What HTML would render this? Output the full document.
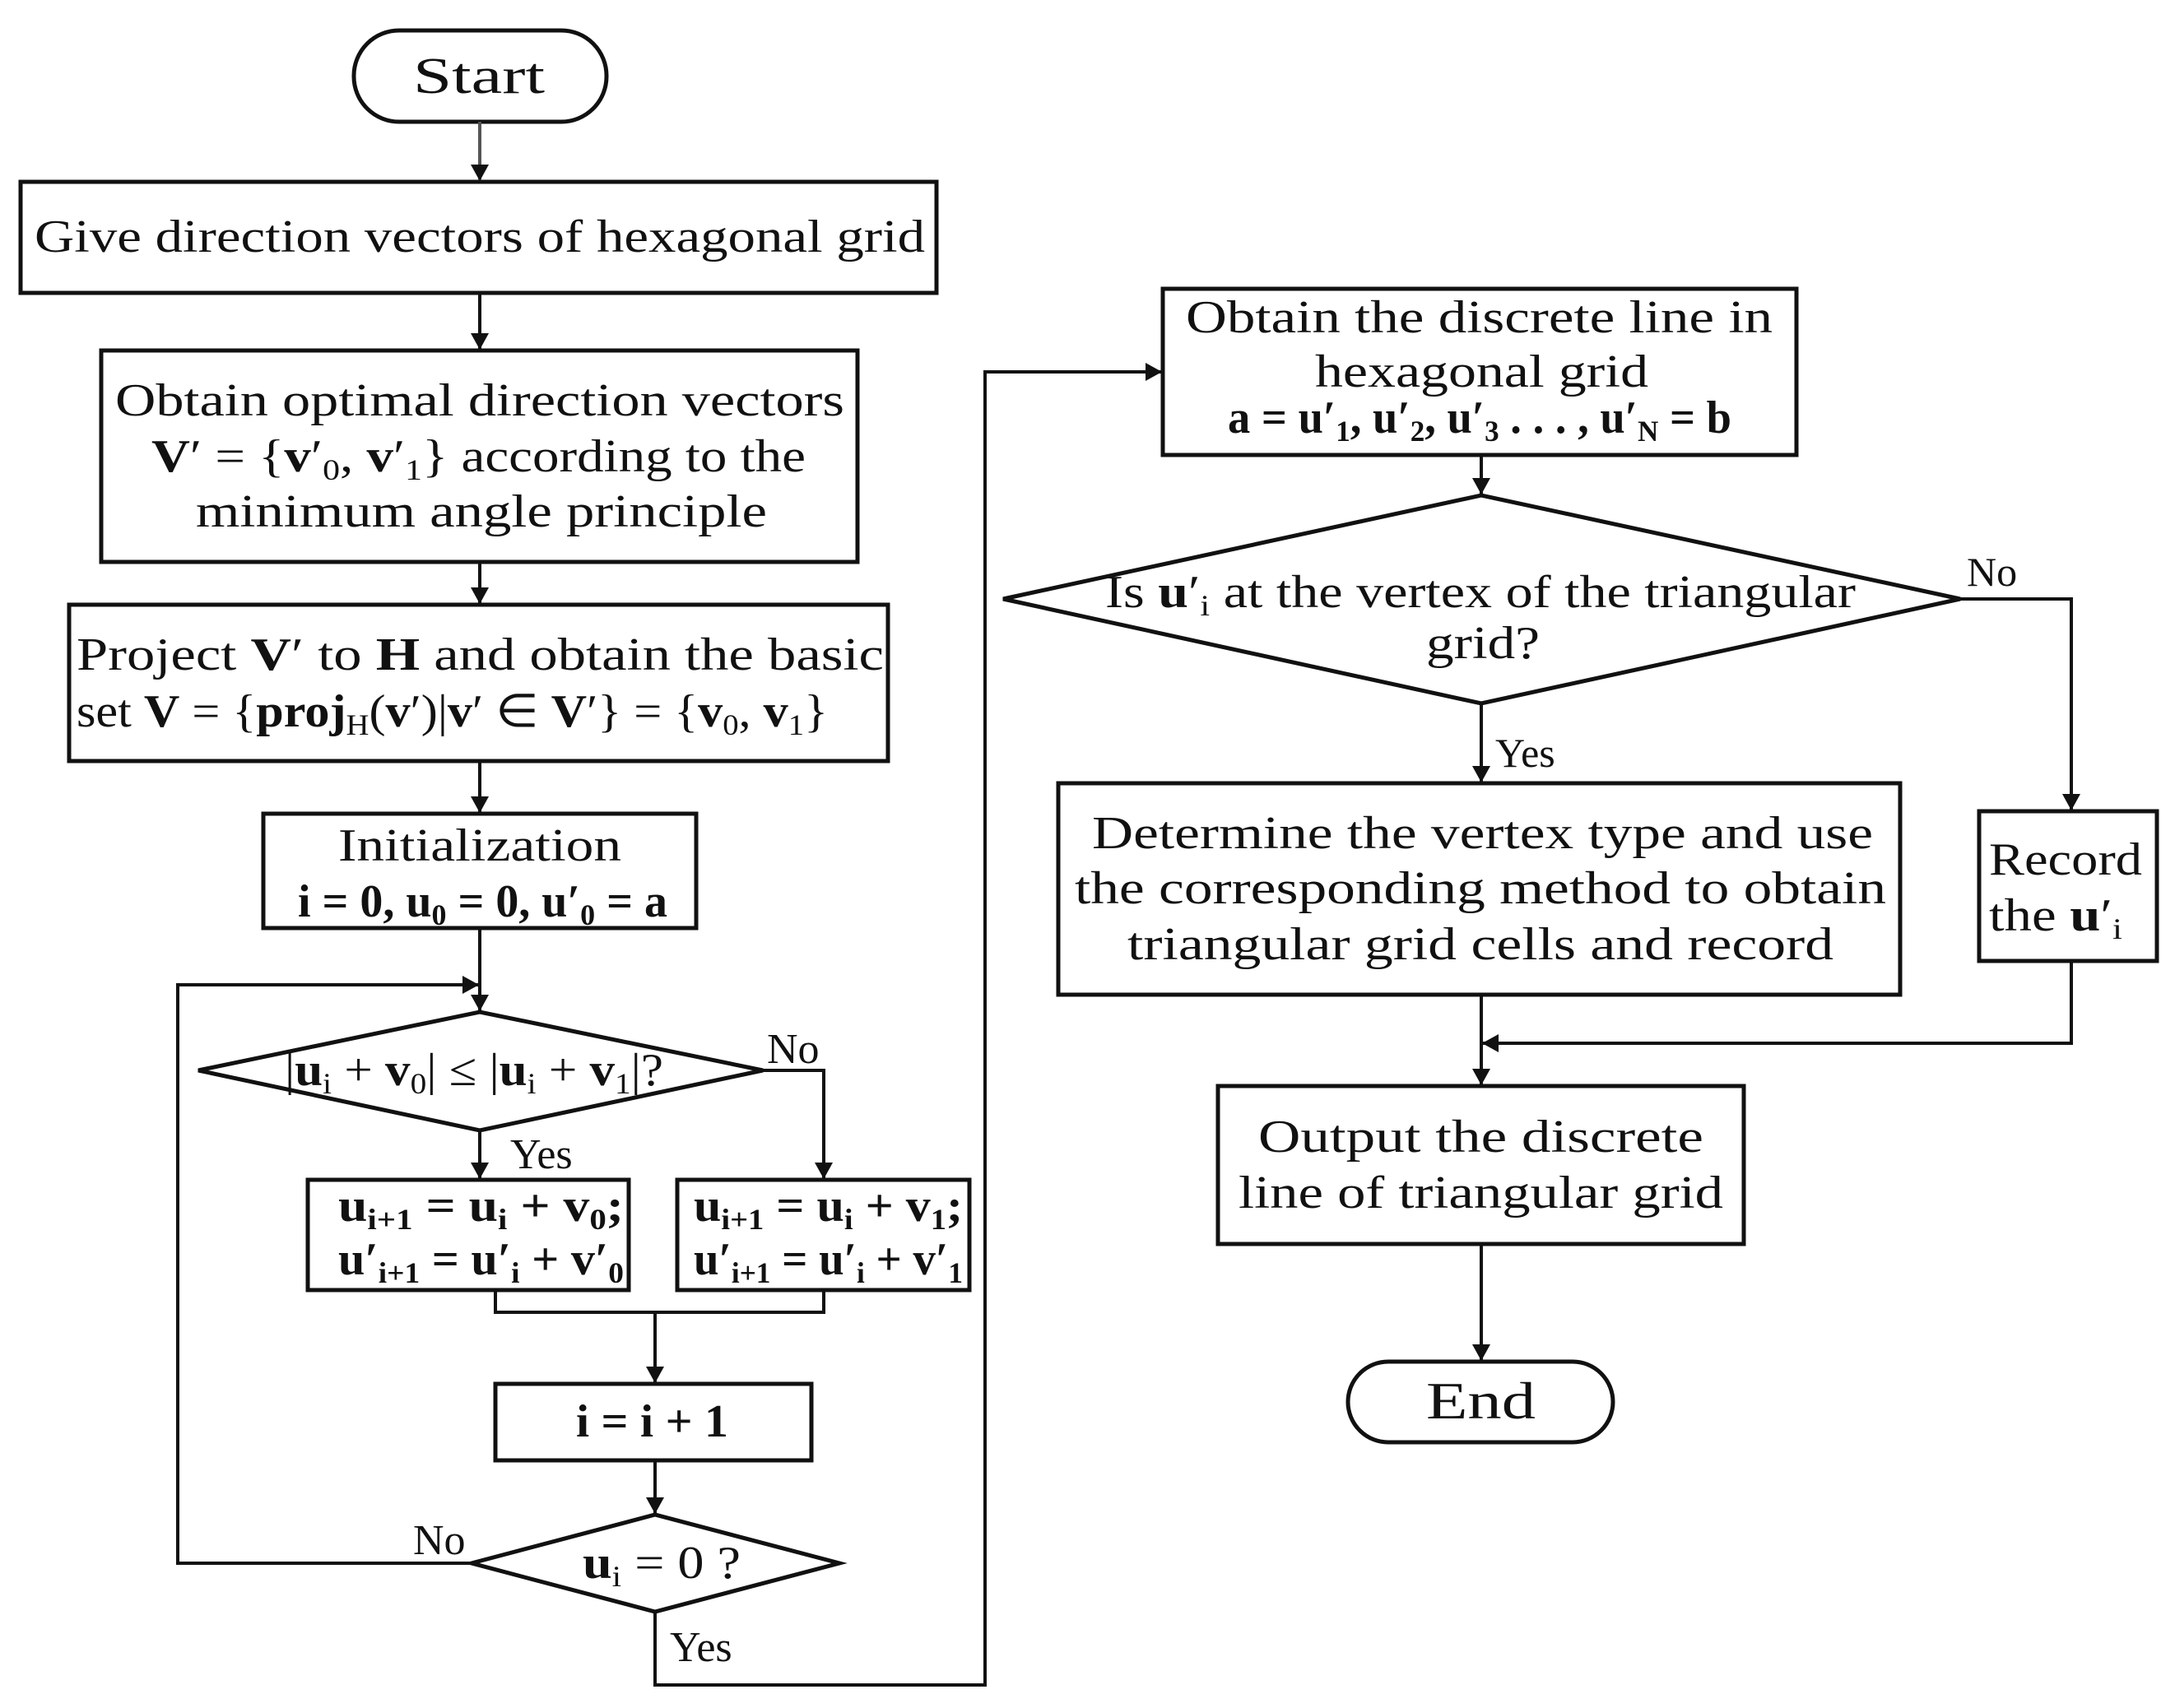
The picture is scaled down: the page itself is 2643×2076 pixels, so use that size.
<!DOCTYPE html>
<html><head><meta charset="utf-8"><style>
html,body{margin:0;padding:0;background:#fff}
svg{display:block}
text{font-family:"Liberation Serif",serif;fill:#111}
</style></head><body>
<svg width="2643" height="2076" viewBox="0 0 2643 2076" xmlns="http://www.w3.org/2000/svg">
<defs>
<marker id="a" markerWidth="8" markerHeight="8" refX="7" refY="4" orient="auto" markerUnits="userSpaceOnUse" viewBox="0 0 8 8">
<path d="M0,0 L8,4 L0,8 z" fill="#111"/></marker>
<marker id="b" markerWidth="20" markerHeight="22" refX="19" refY="11" orient="auto" markerUnits="userSpaceOnUse" viewBox="0 0 20 22">
<path d="M0,0 L20,11 L0,22 z" fill="#111"/></marker>
</defs>
<g fill="none" stroke="#111" stroke-width="5">
<rect x="430" y="37" width="307" height="111" rx="55"/>
<rect x="25" y="221" width="1113" height="135"/>
<rect x="123" y="426" width="919" height="257"/>
<rect x="84" y="735" width="995" height="190"/>
<rect x="320" y="989" width="526" height="139"/>
<polygon points="241,1301 583,1230 927,1301 583,1374"/>
<rect x="374" y="1434" width="390" height="134"/>
<rect x="823" y="1434" width="355" height="134"/>
<rect x="602" y="1682" width="384" height="93"/>
<polygon points="573,1900 796,1841 1020,1900 796,1959"/>
<rect x="1413" y="351" width="770" height="202"/>
<polygon points="1219,728 1800,602 2382,728 1800,855"/>
<rect x="1286" y="952" width="1023" height="257"/>
<rect x="2405" y="986" width="216" height="182"/>
<rect x="1480" y="1320" width="639" height="192"/>
<rect x="1638" y="1655" width="322" height="98" rx="49"/>
</g>
<g fill="none" stroke="#111" stroke-width="4">
<line x1="583" y1="148" x2="583" y2="219" stroke="#555" marker-end="url(#b)"/>
<line x1="583" y1="356" x2="583" y2="424" marker-end="url(#b)"/>
<line x1="583" y1="683" x2="583" y2="733" marker-end="url(#b)"/>
<line x1="583" y1="925" x2="583" y2="987" marker-end="url(#b)"/>
<line x1="583" y1="1128" x2="583" y2="1228" marker-end="url(#b)"/>
<polyline points="573,1900 216,1900 216,1197 581,1197" marker-end="url(#b)"/>
<line x1="583" y1="1374" x2="583" y2="1432" marker-end="url(#b)"/>
<polyline points="927,1301 1001,1301 1001,1432" marker-end="url(#b)"/>
<polyline points="602,1568 602,1595 1001,1595 1001,1568"/>
<line x1="796" y1="1595" x2="796" y2="1680" marker-end="url(#b)"/>
<line x1="796" y1="1775" x2="796" y2="1839" marker-end="url(#b)"/>
<polyline points="796,1959 796,2048 1197,2048 1197,452 1411,452" marker-end="url(#b)"/>
<line x1="1800" y1="553" x2="1800" y2="600" marker-end="url(#b)"/>
<line x1="1800" y1="855" x2="1800" y2="950" marker-end="url(#b)"/>
<polyline points="2382,728 2517,728 2517,984" marker-end="url(#b)"/>
<line x1="1800" y1="1209" x2="1800" y2="1318" marker-end="url(#b)"/>
<polyline points="2517,1168 2517,1268 1802,1268" marker-end="url(#b)"/>
<line x1="1800" y1="1512" x2="1800" y2="1653" marker-end="url(#b)"/>
</g>
<g font-size="56">
<text x="502" y="113" font-size="62" textLength="160" lengthAdjust="spacingAndGlyphs">Start</text>
<text x="42" y="306" textLength="1082" lengthAdjust="spacingAndGlyphs">Give direction vectors of hexagonal grid</text>
<text x="140" y="505" textLength="886" lengthAdjust="spacingAndGlyphs">Obtain optimal direction vectors</text>
<text x="184" y="573" textLength="795" lengthAdjust="spacingAndGlyphs"><tspan font-weight="bold">V</tspan>′ = {<tspan font-weight="bold">v</tspan>′<tspan font-size="36" dy="10">0</tspan><tspan dy="-10">, </tspan><tspan font-weight="bold">v</tspan>′<tspan font-size="36" dy="10">1</tspan><tspan dy="-10">} according to the</tspan></text>
<text x="238" y="640" textLength="694" lengthAdjust="spacingAndGlyphs">minimum angle principle</text>
<text x="93" y="814" textLength="981" lengthAdjust="spacingAndGlyphs">Project <tspan font-weight="bold">V</tspan>′ to <tspan font-weight="bold">H</tspan> and obtain the basic</text>
<text x="93" y="883" textLength="913" lengthAdjust="spacingAndGlyphs">set  <tspan font-weight="bold">V</tspan> = {<tspan font-weight="bold">proj</tspan><tspan font-size="36" dy="10">H</tspan><tspan dy="-10">(</tspan><tspan font-weight="bold">v</tspan>′)|<tspan font-weight="bold">v</tspan>′ ∈ <tspan font-weight="bold">V</tspan>′} = {<tspan font-weight="bold">v</tspan><tspan font-size="36" dy="10">0</tspan><tspan dy="-10">, </tspan><tspan font-weight="bold">v</tspan><tspan font-size="36" dy="10">1</tspan><tspan dy="-10">}</tspan></text>
<text x="411" y="1046" textLength="344" lengthAdjust="spacingAndGlyphs">Initialization</text>
<text x="362" y="1114" textLength="449" lengthAdjust="spacingAndGlyphs" font-weight="bold">i = 0, u<tspan font-size="36" dy="10">0</tspan><tspan dy="-10"> = 0, u′</tspan><tspan font-size="36" dy="10">0</tspan><tspan dy="-10"> = a</tspan></text>
<text x="346" y="1319" textLength="460" lengthAdjust="spacingAndGlyphs">|<tspan font-weight="bold">u</tspan><tspan font-size="36" dy="10">i</tspan><tspan dy="-10"> + </tspan><tspan font-weight="bold">v</tspan><tspan font-size="36" dy="10">0</tspan><tspan dy="-10">| ≤ |</tspan><tspan font-weight="bold">u</tspan><tspan font-size="36" dy="10">i</tspan><tspan dy="-10"> + </tspan><tspan font-weight="bold">v</tspan><tspan font-size="36" dy="10">1</tspan><tspan dy="-10">|?</tspan></text>
<text x="932" y="1292" font-size="52">No</text>
<text x="620" y="1420" font-size="52">Yes</text>
<text x="411" y="1484" textLength="347" lengthAdjust="spacingAndGlyphs" font-weight="bold">u<tspan font-size="36" dy="10">i+1</tspan><tspan dy="-10"> = u</tspan><tspan font-size="36" dy="10">i</tspan><tspan dy="-10"> + v</tspan><tspan font-size="36" dy="10">0</tspan><tspan dy="-10">;</tspan></text>
<text x="411" y="1549" textLength="347" lengthAdjust="spacingAndGlyphs" font-weight="bold">u′<tspan font-size="36" dy="10">i+1</tspan><tspan dy="-10"> = u′</tspan><tspan font-size="36" dy="10">i</tspan><tspan dy="-10"> + v′</tspan><tspan font-size="36" dy="10">0</tspan></text>
<text x="843" y="1484" textLength="327" lengthAdjust="spacingAndGlyphs" font-weight="bold">u<tspan font-size="36" dy="10">i+1</tspan><tspan dy="-10"> = u</tspan><tspan font-size="36" dy="10">i</tspan><tspan dy="-10"> + v</tspan><tspan font-size="36" dy="10">1</tspan><tspan dy="-10">;</tspan></text>
<text x="843" y="1549" textLength="327" lengthAdjust="spacingAndGlyphs" font-weight="bold">u′<tspan font-size="36" dy="10">i+1</tspan><tspan dy="-10"> = u′</tspan><tspan font-size="36" dy="10">i</tspan><tspan dy="-10"> + v′</tspan><tspan font-size="36" dy="10">1</tspan></text>
<text x="700" y="1746" textLength="185" lengthAdjust="spacingAndGlyphs" font-weight="bold">i = i + 1</text>
<text x="708" y="1918" textLength="192" lengthAdjust="spacingAndGlyphs"><tspan font-weight="bold">u</tspan><tspan font-size="36" dy="10">i</tspan><tspan dy="-10"> = 0 ?</tspan></text>
<text x="502" y="1889" font-size="52">No</text>
<text x="814" y="2019" font-size="52">Yes</text>
<text x="1441" y="404" textLength="713" lengthAdjust="spacingAndGlyphs">Obtain the discrete line in</text>
<text x="1598" y="470" textLength="405" lengthAdjust="spacingAndGlyphs">hexagonal grid</text>
<text x="1492" y="526" textLength="612" lengthAdjust="spacingAndGlyphs" font-weight="bold">a = u′<tspan font-size="36" dy="10">1</tspan><tspan dy="-10">, u′</tspan><tspan font-size="36" dy="10">2</tspan><tspan dy="-10">, u′</tspan><tspan font-size="36" dy="10">3</tspan><tspan dy="-10"> . . . , u′</tspan><tspan font-size="36" dy="10">N</tspan><tspan dy="-10"> = b</tspan></text>
<text x="1343" y="738" textLength="912" lengthAdjust="spacingAndGlyphs">Is <tspan font-weight="bold">u</tspan>′<tspan font-size="36" dy="10">i</tspan><tspan dy="-10"> at the vertex of the triangular</tspan></text>
<text x="1733" y="800" textLength="138" lengthAdjust="spacingAndGlyphs">grid?</text>
<text x="2390" y="712" font-size="50">No</text>
<text x="1817" y="932" font-size="50">Yes</text>
<text x="1327" y="1031" textLength="949" lengthAdjust="spacingAndGlyphs">Determine the vertex type and use</text>
<text x="1306" y="1098" textLength="986" lengthAdjust="spacingAndGlyphs">the corresponding method to obtain</text>
<text x="1370" y="1166" textLength="858" lengthAdjust="spacingAndGlyphs">triangular grid cells and record</text>
<text x="2417" y="1063" textLength="186" lengthAdjust="spacingAndGlyphs">Record</text>
<text x="2417" y="1131" textLength="162" lengthAdjust="spacingAndGlyphs">the <tspan font-weight="bold">u</tspan>′<tspan font-size="36" dy="10">i</tspan></text>
<text x="1529" y="1400" textLength="541" lengthAdjust="spacingAndGlyphs">Output the discrete</text>
<text x="1505" y="1468" textLength="589" lengthAdjust="spacingAndGlyphs">line of triangular grid</text>
<text x="1733" y="1724" font-size="64" textLength="133" lengthAdjust="spacingAndGlyphs">End</text>
</g>
</svg>
</body></html>
